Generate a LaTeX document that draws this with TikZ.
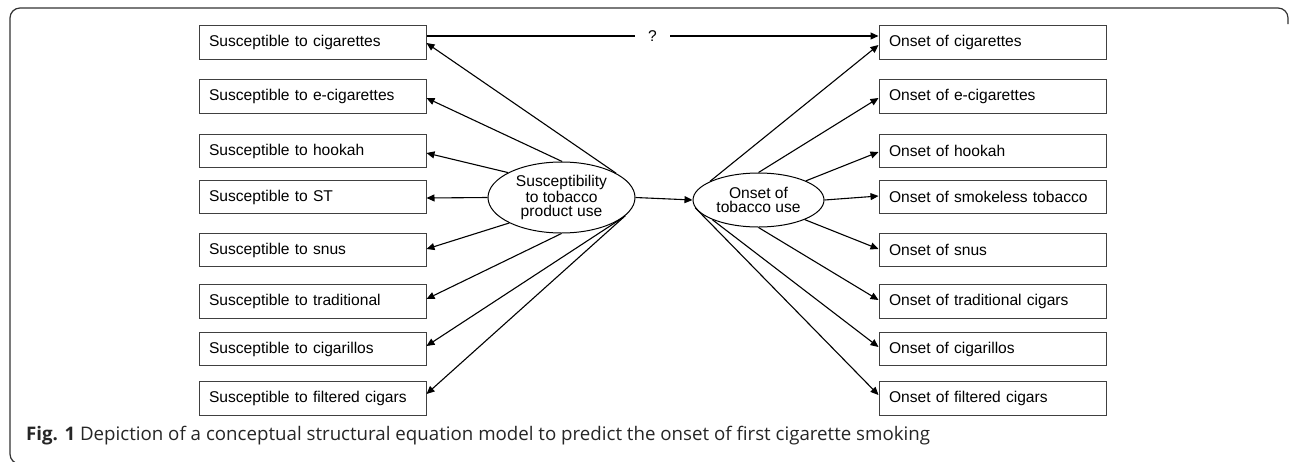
\documentclass[tikz,border=0pt]{standalone}
\usepackage{fontspec}
\setmainfont{Liberation Sans}
\newfontfamily\capfont{Open Sans}
\usetikzlibrary{arrows.meta,shapes.geometric}
\tikzset{
  varbox/.style={draw=black!75, line width=1pt, rectangle, minimum height=33.5pt,
    text width=207pt, inner xsep=10pt, inner ysep=0pt, align=left,
    font=\fontsize{15.6}{16}\selectfont},
  latent/.style={draw=black, line width=1pt, ellipse, inner sep=0pt, align=center,
    font=\fontsize{15.6}{14.5}\selectfont},
  arr/.style={line width=1.1pt, -{Triangle[length=8pt,width=7pt]}},
  frame/.style={draw=black!80, line width=1.2pt, rounded corners=10pt}
}
\begin{document}
\begin{tikzpicture}[x=1pt,y=-1pt]
\useasboundingbox (0,0) rectangle (1292,461);
\draw[frame] (1288,24) -- (1288,8) -- (10,8) -- (10,464) -- (40,464);

% left boxes
\node[varbox] (L1) at (312.5,42.5) {Susceptible to cigarettes};
\node[varbox] (L2) at (312.5,96.5) {Susceptible to e-cigarettes};
\node[varbox] (L3) at (312.5,151) {Susceptible to hookah};
\node[varbox] (L4) at (312.5,197) {Susceptible to ST};
\node[varbox] (L5) at (312.5,250) {Susceptible to snus};
\node[varbox] (L6) at (312.5,301.5) {Susceptible to traditional};
\node[varbox] (L7) at (312.5,349) {Susceptible to cigarillos};
\node[varbox] (L8) at (312.5,398.5) {Susceptible to filtered cigars};

% right boxes
\node[varbox] (R1) at (992.5,42.5) {Onset of cigarettes};
\node[varbox] (R2) at (992.5,96.5) {Onset of e-cigarettes};
\node[varbox] (R3) at (992.5,151) {Onset of hookah};
\node[varbox] (R4) at (992.5,197) {Onset of smokeless tobacco};
\node[varbox] (R5) at (992.5,250) {Onset of snus};
\node[varbox] (R6) at (992.5,301.5) {Onset of traditional cigars};
\node[varbox] (R7) at (992.5,349) {Onset of cigarillos};
\node[varbox] (R8) at (992.5,398.5) {Onset of filtered cigars};

% latent variables
\node[latent, minimum width=147pt, minimum height=71pt] (S) at (561.5,197.5)
  {Susceptibility\\to tobacco\\product use};
\node[latent, minimum width=131pt, minimum height=54pt] (O) at (758.5,200)
  {Onset of\\tobacco use};

% arrows from susceptibility
\draw[arr] (S.24)  -- ([yshift=-0.5pt]L1.east);
\draw[arr] (S.89)  -- ([yshift=-1.5pt]L2.east);
\draw[arr] (S.155) -- ([yshift=-2pt]L3.east);
\draw[arr] (S.180) -- ([yshift=-1pt]L4.east);
\draw[arr] (S.206) -- ([yshift=1pt]L5.east);
\draw[arr] (S.270) -- ([yshift=2.5pt]L6.east);
\draw[arr] (S.342) -- ([yshift=3pt]L7.east);
\draw[arr] (S.344) -- ([yshift=4.5pt]L8.east);

% structural path
\draw[arr] (S.east) -- (O.west);

% arrows to onset
\draw[arr] (O.159) -- ([yshift=-2.5pt]R1.west);
\draw[arr] (O.90)  -- ([yshift=-1.5pt]R2.west);
\draw[arr] (O.22)  -- ([yshift=-1pt]R3.west);
\draw[arr] (O.0)   -- ([yshift=1pt]R4.west);
\draw[arr] (O.337) -- ([yshift=1pt]R5.west);
\draw[arr] (O.270) -- ([yshift=1.5pt]R6.west);
\draw[arr] (O.203) -- ([yshift=2pt]R7.west);
\draw[arr] (O.187) -- ([yshift=3.5pt]R8.west);

% cigarette to cigarette path
\draw[arr] ([yshift=6.5pt]L1.east) -- node[fill=white, inner xsep=13pt, inner ysep=1pt,
  font=\fontsize{15.6}{16}\selectfont] (Q) {?} ([yshift=6.5pt]R1.west);

% caption
\node[anchor=base west, inner sep=0pt, text=black!85, font=\capfont\fontsize{18.7}{20}\selectfont] (cap) at (26,440)
  {\textbf{Fig. 1} Depiction of a conceptual structural equation model to predict the onset of first cigarette smoking};
\end{tikzpicture}
\end{document}
